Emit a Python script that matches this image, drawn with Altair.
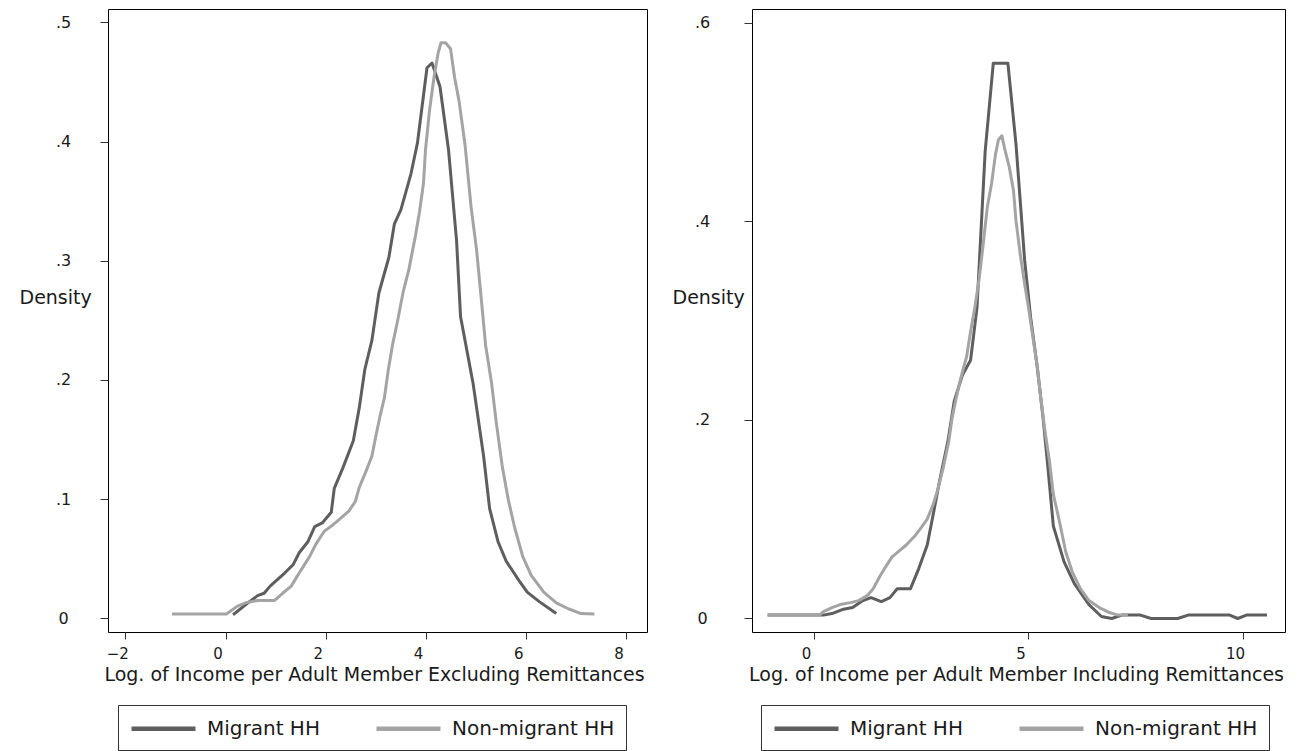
import altair as alt
import pandas as pd

GROUPS = ["Migrant HH", "Non-migrant HH"]
COLORS = ["#5e5e5e", "#a4a4a4"]

# Left panel: income excluding remittances
ex_mig_x = [0.15, 0.48, 0.64, 0.77, 0.89, 1.18, 1.35, 1.47, 1.64, 1.78,
            1.93, 2.11, 2.17, 2.34, 2.55, 2.67, 2.78, 2.92, 3.06, 3.26,
            3.37, 3.50, 3.70, 3.83, 4.02, 4.12, 4.28, 4.45, 4.61, 4.69,
            4.94, 5.15, 5.27, 5.44, 5.60, 5.85, 6.02, 6.26, 6.60]
ex_mig_y = [0.003, 0.014, 0.019, 0.021, 0.027, 0.038, 0.045, 0.055, 0.064, 0.077,
            0.080, 0.089, 0.109, 0.126, 0.149, 0.177, 0.209, 0.233, 0.273, 0.303,
            0.331, 0.343, 0.373, 0.399, 0.462, 0.466, 0.446, 0.393, 0.317, 0.253,
            0.197, 0.136, 0.092, 0.064, 0.048, 0.032, 0.022, 0.014, 0.004]

ex_non_x = [-1.07, 0.02, 0.23, 0.40, 0.64, 0.98, 1.14, 1.31, 1.47, 1.68,
            1.80, 1.97, 2.13, 2.30, 2.46, 2.59, 2.67, 2.79, 2.92, 3.00,
            3.08, 3.17, 3.25, 3.33, 3.44, 3.54, 3.66, 3.79, 3.87, 3.95,
            3.99, 4.07, 4.16, 4.24, 4.30, 4.39, 4.49, 4.57, 4.66, 4.78,
            4.90, 5.01, 5.11, 5.19, 5.31, 5.40, 5.52, 5.64, 5.77, 5.93,
            6.10, 6.35, 6.60, 6.84, 7.09, 7.36]
ex_non_y = [0.0036, 0.0036, 0.010, 0.013, 0.015, 0.015, 0.021, 0.027, 0.038, 0.052,
            0.062, 0.073, 0.078, 0.084, 0.090, 0.098, 0.110, 0.122, 0.136, 0.153,
            0.169, 0.185, 0.209, 0.229, 0.251, 0.273, 0.293, 0.321, 0.341, 0.365,
            0.393, 0.426, 0.454, 0.474, 0.483, 0.483, 0.478, 0.454, 0.434, 0.397,
            0.345, 0.309, 0.265, 0.229, 0.197, 0.165, 0.128, 0.100, 0.076, 0.052,
            0.036, 0.022, 0.013, 0.008, 0.004, 0.0036]

# Right panel: income including remittances
in_mig_x = [-1.08, 0.22, 0.42, 0.66, 0.90, 1.14, 1.33, 1.57, 1.77, 1.94,
            2.25, 2.44, 2.64, 2.78, 2.93, 3.12, 3.27, 3.46, 3.65, 3.80,
            3.99, 4.18, 4.52, 4.71, 4.91, 5.05, 5.20, 5.34, 5.44, 5.58,
            5.83, 6.07, 6.41, 6.70, 6.94, 7.18, 7.61, 7.86, 8.48, 8.72,
            9.69, 9.88, 10.08, 10.56]
in_mig_y = [0.0034, 0.0034, 0.005, 0.009, 0.011, 0.018, 0.021, 0.017, 0.021, 0.030,
            0.030, 0.050, 0.074, 0.105, 0.139, 0.178, 0.219, 0.245, 0.260, 0.313,
            0.470, 0.559, 0.559, 0.477, 0.361, 0.303, 0.255, 0.202, 0.158, 0.093,
            0.057, 0.035, 0.014, 0.002, 0.000, 0.0034, 0.0034, 0.000, 0.000, 0.0034,
            0.0034, 0.000, 0.0034, 0.0034]

in_non_x = [-1.08, 0.13, 0.22, 0.42, 0.61, 0.85, 1.04, 1.24, 1.38, 1.53,
            1.67, 1.82, 1.96, 2.15, 2.35, 2.49, 2.64, 2.78, 2.88, 3.02,
            3.14, 3.22, 3.31, 3.41, 3.56, 3.65, 3.75, 3.85, 3.94, 4.04,
            4.14, 4.23, 4.30, 4.38, 4.45, 4.55, 4.65, 4.71, 4.81, 4.91,
            5.00, 5.10, 5.20, 5.29, 5.39, 5.49, 5.58, 5.73, 5.87, 6.02,
            6.21, 6.41, 6.65, 6.89, 7.08, 7.32]
in_non_y = [0.0034, 0.0034, 0.007, 0.011, 0.014, 0.016, 0.018, 0.023, 0.030, 0.042,
            0.052, 0.062, 0.067, 0.074, 0.083, 0.091, 0.100, 0.115, 0.129, 0.153,
            0.178, 0.202, 0.221, 0.240, 0.264, 0.289, 0.313, 0.342, 0.375, 0.414,
            0.438, 0.467, 0.482, 0.486, 0.472, 0.455, 0.431, 0.400, 0.366, 0.337,
            0.313, 0.284, 0.255, 0.221, 0.187, 0.158, 0.125, 0.096, 0.067, 0.047,
            0.030, 0.018, 0.011, 0.006, 0.0034, 0.0034]

LEFT_XTICKS = [-2, 0, 2, 4, 6, 8]
LEFT_YTICKS = [0, 0.1, 0.2, 0.3, 0.4, 0.5]
RIGHT_XTICKS = [0, 5, 10]
RIGHT_YTICKS = [0, 0.2, 0.4, 0.6]

X_TITLE_L = "Log. of Income per Adult Member Excluding Remittances"
X_TITLE_R = "Log. of Income per Adult Member Including Remittances"
Y_TITLE = "Density"


def table(series):
    rows = []
    for name, xs, ys in series:
        for a, b in zip(xs, ys):
            rows.append({"x": a, "d": b, "group": name})
    return pd.DataFrame(rows)


FONT = "DejaVu Sans"
YLAB = "datum.value == 0 ? '0' : substring(format(datum.value, '.1f'), 1)"


def panel(df, xtitle, xdom, xticks, xtitle_x, ydom, yticks, ylabpad, ytitle_x,
          width, legend_x):
    return alt.Chart(df).mark_line(strokeWidth=3, strokeJoin="round").encode(
        x=alt.X("x:Q",
                scale=alt.Scale(domain=xdom, nice=False, zero=False),
                axis=alt.Axis(values=xticks, title=xtitle, format="d",
                              tickSize=7, labelPadding=7, labelOffset=-8,
                              labelFontSize=15,
                              titleX=xtitle_x, titleY=48, titleAlign="center",
                              titleBaseline="alphabetic", titleAngle=0)),
        y=alt.Y("d:Q",
                scale=alt.Scale(domain=ydom, nice=False, zero=False),
                axis=alt.Axis(values=yticks, title=Y_TITLE, labelExpr=YLAB,
                              tickSize=8, labelPadding=ylabpad, labelAlign="center",
                              labelBaseline="middle",
                              titleAngle=0, titleAlign="left",
                              titleBaseline="alphabetic",
                              titleX=ytitle_x, titleY=294)),
        color=alt.Color("group:N",
                        scale=alt.Scale(domain=GROUPS, range=COLORS),
                        legend=alt.Legend(
                            title=None, orient="none", legendX=legend_x, legendY=696,
                            direction="horizontal", columns=2, columnPadding=47,
                            padding=11, strokeColor="#333", fillColor="white",
                            symbolType="M-3.2,0L3.2,0", symbolSize=400,
                            symbolOffset=22, symbolStrokeWidth=4.5,
                            labelOffset=31, labelFont=FONT, labelFontSize=20,
                            labelColor="#1a1a1a", labelLimit=400)),
    ).properties(width=width, height=623)


left = panel(
    table([(GROUPS[0], ex_mig_x, ex_mig_y), (GROUPS[1], ex_non_x, ex_non_y)]),
    X_TITLE_L, [-2.345, 8.41], LEFT_XTICKS, 266,
    [-0.0115, 0.5113], LEFT_YTICKS, 37, -89, 539, 10)

right = panel(
    table([(GROUPS[0], in_mig_x, in_mig_y), (GROUPS[1], in_non_x, in_non_y)]),
    X_TITLE_R, [-1.445, 10.98], RIGHT_XTICKS, 264,
    [-0.0136, 0.6136], RIGHT_YTICKS, 42, -80, 533, 9)

chart = alt.hconcat(left, right, spacing=105, bounds="flush").resolve_scale(
    color="independent").resolve_legend(color="independent").properties(
    padding={"left": 10, "top": 0, "right": 0, "bottom": 0},
    background="white",
).configure_view(stroke="#000", strokeWidth=1).configure_axis(
    grid=False, domain=False, tickColor="#333", tickWidth=1,
    labelFont=FONT, labelFontSize=16, labelColor="#1a1a1a",
    titleFont=FONT, titleFontSize=19, titleFontWeight="normal", titleColor="#1a1a1a",
)

chart.save("out.html", embed_options={"renderer": "svg", "actions": False})
